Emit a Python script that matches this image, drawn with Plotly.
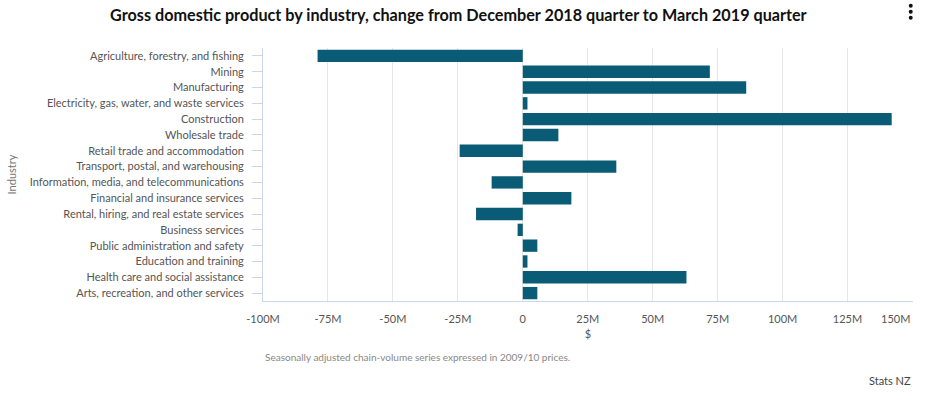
import plotly.graph_objects as go

industries = [
    "Agriculture, forestry, and fishing",
    "Mining",
    "Manufacturing",
    "Electricity, gas, water, and waste services",
    "Construction",
    "Wholesale trade",
    "Retail trade and accommodation",
    "Transport, postal, and warehousing",
    "Information, media, and telecommunications",
    "Financial and insurance services",
    "Rental, hiring, and real estate services",
    "Business services",
    "Public administration and safety",
    "Education and training",
    "Health care and social assistance",
    "Arts, recreation, and other services",
]
change = [-79e6, 72e6, 86e6, 1.8e6, 142e6, 13.7e6, -24.3e6, 36e6,
          -12e6, 18.7e6, -18e6, -2e6, 5.6e6, 1.8e6, 63e6, 5.6e6]

tick_vals = [-100e6, -75e6, -50e6, -25e6, 0, 25e6, 50e6, 75e6, 100e6, 125e6, 150e6]
tick_text = ["-100M", "-75M", "-50M", "-25M", "0", "25M", "50M", "75M", "100M", "125M", "150M"]

FONT = "Lato, 'Open Sans', sans-serif"
TICKFONT = dict(family=FONT, size=11, color="#555555")

fig = go.Figure(go.Bar(
    x=change, y=industries, orientation="h",
    marker=dict(color="#0a5c76", line=dict(width=0)),
))

fig.update_layout(
    width=926, height=394,
    margin=dict(l=260, r=13, t=48, b=93),
    paper_bgcolor="white", plot_bgcolor="white",
    bargap=0.22,
    showlegend=False,
    font=dict(family=FONT, size=11, color="#666666"),
    title=dict(text="<b>Gross domestic product by industry, change from December 2018 quarter to March 2019 quarter</b>",
               x=0.495, xanchor="center", y=0.975, yanchor="top",
               font=dict(family=FONT, size=16.2, color="#111111")),
)

# last tick label is drawn right-aligned to the axis end (as in the original)
shown_text = tick_text[:-1] + [""]
fig.update_xaxes(
    range=[-100e6, 150.2e6], tickvals=tick_vals, ticktext=shown_text,
    showgrid=True, gridcolor="#e6e6e6", gridwidth=1,
    zeroline=False, showline=True, linecolor="#ccd6eb", linewidth=1,
    ticks="", ticklabelstandoff=8,
    tickfont=TICKFONT,
    title=dict(text="$", font=dict(family=FONT, size=11, color="#555555"), standoff=6),
)
fig.add_annotation(
    text=tick_text[-1], xref="x", yref="paper", x=tick_vals[-1], y=-0.071,
    xanchor="right", yanchor="middle", showarrow=False, font=TICKFONT,
)
fig.update_yaxes(
    categoryorder="array", categoryarray=industries, autorange="reversed",
    showgrid=False, zeroline=False, showline=True, linecolor="#ccd6eb", linewidth=1,
    ticks="outside", ticklen=10, tickcolor="#ccd6eb", ticklabelstandoff=6,
    tickfont=TICKFONT,
    title=dict(text="Industry", font=dict(family=FONT, size=11, color="#777777"), standoff=10),
)

fig.add_annotation(
    text="Seasonally adjusted chain-volume series expressed in 2009/10 prices.",
    xref="paper", yref="paper", x=0, y=-0.221, xanchor="left", yanchor="middle",
    showarrow=False, font=dict(family=FONT, size=10, color="#888888"),
)
fig.add_annotation(
    text="Stats NZ", xref="paper", yref="paper", x=1, y=-0.316,
    xanchor="right", yanchor="middle",
    showarrow=False, font=dict(family=FONT, size=11, color="#444444"),
)

# context-menu icon: three dots
for yy in [1.1672, 1.1435, 1.1198]:
    fig.add_shape(
        type="circle", xref="paper", yref="paper",
        xsizemode="pixel", ysizemode="pixel",
        xanchor=0.9965, yanchor=yy, x0=-2, x1=2, y0=-2, y1=2,
        fillcolor="#111111", line=dict(width=0),
    )

fig.write_html("out.html", config={"displayModeBar": False},
               post_script="document.body.style.margin='0px';")
